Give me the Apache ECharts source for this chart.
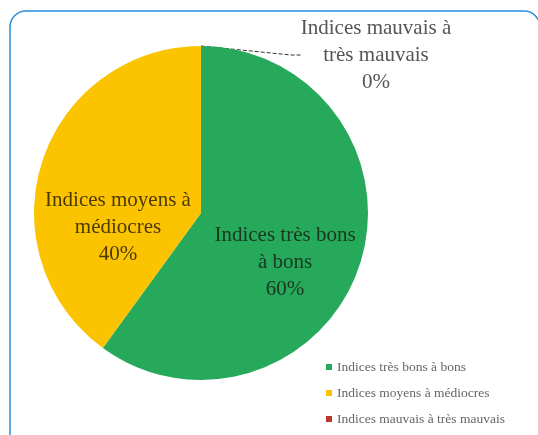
<!DOCTYPE html>
<html>
<head>
<meta charset="utf-8">
<script src="https://cdn.jsdelivr.net/npm/echarts@6/dist/echarts.min.js"></script>
<style>
  html, body { margin: 0; padding: 0; background: #ffffff; }
  #chart { width: 538px; height: 435px; }
</style>
</head>
<body>
<div id="chart"></div>
<script>
// Categories and their shares (percent)
const categories = [
  'Indices très bons à bons',
  'Indices moyens à médiocres',
  'Indices mauvais à très mauvais'
];
const values = [60, 40, 0];
// Slice captions, written over several lines
const sliceCaptions = [
  'Indices très bons\nà bons',
  'Indices moyens à\nmédiocres',
  'Indices mauvais à\ntrès mauvais'
];
const colors = ['#27a95c', '#fcc400', '#b83a2c'];

// Where each caption sits (centre of the text block)
const captionAnchors = [[285, 262], [118, 227], [376, 55]];
const captionColors = ['#17381f', '#4a3a00', '#555555'];

const chart = echarts.init(document.getElementById('chart'), null, { renderer: 'canvas' });

const option = {
  animation: false,
  backgroundColor: '#ffffff',
  color: colors,
  graphic: [{
    type: 'rect',
    shape: { x: 10, y: 11, width: 530, height: 440, r: 16 },
    style: { fill: 'none', stroke: '#2a8fdb', lineWidth: 1.5 },
    z: 100,
    silent: true
  }],
  legend: {
    orient: 'vertical',
    left: 321,
    top: 355,
    icon: 'rect',
    itemWidth: 6,
    itemHeight: 6,
    itemGap: 12,
    data: categories,
    textStyle: {
      fontFamily: 'Liberation Serif',
      fontSize: 13.5,
      color: '#666666'
    }
  },
  series: [{
    type: 'pie',
    center: [201, 213],
    radius: 167,
    startAngle: 90,
    clockwise: true,
    avoidLabelOverlap: false,
    itemStyle: { borderWidth: 0 },
    label: {
      fontFamily: 'Liberation Serif',
      fontSize: 21,
      lineHeight: 27,
      align: 'center',
      verticalAlign: 'middle'
    },
    labelLine: { show: false },
    labelLayout: function (params) {
      const a = captionAnchors[params.dataIndex];
      return { x: a[0], y: a[1], align: 'center', verticalAlign: 'middle' };
    },
    data: categories.map(function (name, i) {
      const outside = i === 2;
      return {
        name: name,
        value: values[i],
        label: {
          show: true,
          position: outside ? 'outside' : 'inside',
          color: captionColors[i],
          formatter: function (p) {
            return sliceCaptions[p.dataIndex] + '\n' + p.percent + '%';
          }
        },
        labelLine: outside ? {
          show: true,
          length: 10,
          length2: 10,
          lineStyle: { color: '#333333', type: 'dashed', width: 1 }
        } : { show: false }
      };
    })
  }]
};

chart.setOption(option);
</script>
</body>
</html>
